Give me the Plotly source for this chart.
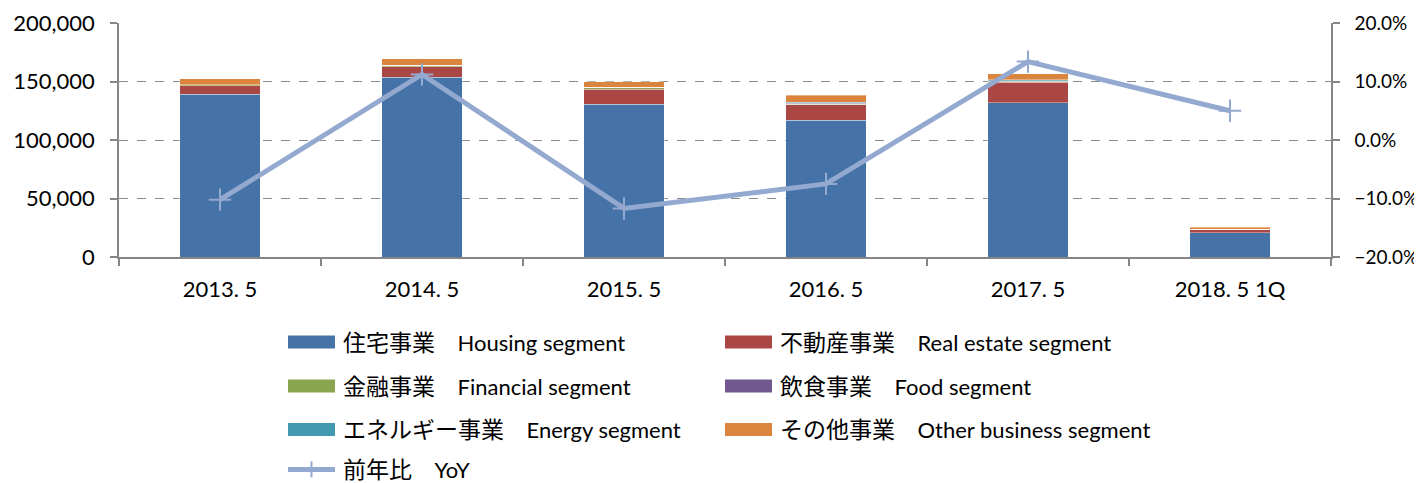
import plotly.graph_objects as go

categories = ["2013. 5", "2014. 5", "2015. 5", "2016. 5", "2017. 5", "2018. 5 1Q"]
housing = [139100, 153600, 130600, 116900, 131700, 20700]
real_estate = [7400, 9100, 12800, 13400, 17700, 3200]
financial = [600, 1400, 1700, 400, 800, 0]
food = [0, 0, 0, 600, 300, 0]
energy = [0, 0, 0, 1000, 1100, 0]
other = [5100, 5200, 4500, 6000, 5100, 1400]
yoy = [-0.102, 0.112, -0.117, -0.075, 0.134, 0.050]

series_jp = ["住宅事業", "不動産事業", "金融事業", "飲食事業", "エネルギー事業", "その他事業"]
series_en = ["Housing segment", "Real estate segment", "Financial segment",
             "Food segment", "Energy segment", "Other business segment"]
yoy_jp, yoy_en = "前年比", "YoY"
colors = ["#4572A7", "#AA4643", "#89A54E", "#71588F", "#4198AF", "#DB843D"]
line_color = "#93A9CF"

# page has an 8px body margin; reference pixel coordinates are converted by OFF
OFF = 8
W, H = 1422 - OFF, 483 - OFF
PLOT_L, PLOT_R, PLOT_T, PLOT_B = 119 - OFF, 1331 - OFF, 23 - OFF, 257.3 - OFF
L, R, T, B = PLOT_L, W - PLOT_R, PLOT_T, H - PLOT_B
PW, PH = PLOT_R - PLOT_L, PLOT_B - PLOT_T

FONT = "Lato, 'Noto Sans CJK JP', sans-serif"
GAP = "\u00a0\u00a0\u00a0\u00a0"

def label(jp, en):
    return f"<span style='font-size:23px'>{jp}</span>{GAP}{en}"

fig = go.Figure()
for vals, jp, en, col in zip([housing, real_estate, financial, food, energy, other],
                             series_jp, series_en, colors):
    fig.add_trace(go.Bar(
        x=categories, y=vals, name=f"{jp} {en}", width=0.4,
        marker=dict(color=col, line=dict(color="rgba(255,255,255,0.45)", width=0.8)),
        showlegend=False,
    ))

fig.add_trace(go.Scatter(
    x=categories, y=yoy, name=f"{yoy_jp} {yoy_en}", yaxis="y2", mode="lines+markers",
    line=dict(color=line_color, width=5),
    marker=dict(symbol="cross-thin", size=16, line=dict(color=line_color, width=2)),
    showlegend=False,
))

def px_x(px):
    return (px - OFF - PLOT_L) / PW

def px_y(py):
    return (PLOT_B - (py - OFF)) / PH

shapes = []
annotations = []
legend_items = [(0, 0, 0), (1, 0, 1), (2, 1, 0), (3, 1, 1), (4, 2, 0), (5, 2, 1)]
row_y = [342.5, 386.5, 430, 470]
col_rect = [(288, 335), (725, 772)]
col_text = [341, 778]
for idx, row, col in legend_items:
    cy = row_y[row]
    x0, x1 = col_rect[col]
    shapes.append(dict(type="rect", xref="paper", yref="paper",
                       x0=px_x(x0), x1=px_x(x1), y0=px_y(cy + 6.5), y1=px_y(cy - 6.5),
                       fillcolor=colors[idx], line=dict(width=0)))
    annotations.append(dict(xref="paper", yref="paper", x=px_x(col_text[col]), y=px_y(cy),
                            text=label(series_jp[idx], series_en[idx]), showarrow=False,
                            xanchor="left", yanchor="middle",
                            font=dict(size=22, color="#000000", family=FONT)))
cy = row_y[3]
shapes.append(dict(type="line", xref="paper", yref="paper",
                   x0=px_x(288), x1=px_x(335), y0=px_y(cy), y1=px_y(cy),
                   line=dict(color=line_color, width=5)))
shapes.append(dict(type="line", xref="paper", yref="paper",
                   x0=px_x(311.5), x1=px_x(311.5), y0=px_y(cy - 8), y1=px_y(cy + 8),
                   line=dict(color=line_color, width=2)))
annotations.append(dict(xref="paper", yref="paper", x=px_x(col_text[0]), y=px_y(cy),
                        text=label(yoy_jp, yoy_en), showarrow=False,
                        xanchor="left", yanchor="middle",
                        font=dict(size=22, color="#000000", family=FONT)))

axis_col = "#868686"
fig.update_layout(
    width=W, height=H,
    margin=dict(l=L, r=R, t=T, b=B, pad=0, autoexpand=False),
    barmode="stack",
    plot_bgcolor="white", paper_bgcolor="white",
    font=dict(family=FONT, size=22, color="#000000"),
    shapes=shapes, annotations=annotations,
    xaxis=dict(
        type="category", tickson="boundaries", ticks="outside", ticklen=7,
        tickcolor=axis_col, tickwidth=1.5, showline=True, linecolor=axis_col, linewidth=2,
        showgrid=False, ticklabelstandoff=12, tickfont=dict(size=22),
        range=[-0.5, 5.5], automargin=False,
    ),
    yaxis=dict(
        range=[0, 200000], tickvals=[0, 50000, 100000, 150000, 200000],
        tickformat=",d", ticks="outside", ticklen=7, tickcolor=axis_col, tickwidth=1.5,
        showline=True, linecolor=axis_col, linewidth=1.5,
        showgrid=True, gridcolor="#8C8C8C", griddash="dash", gridwidth=1,
        zeroline=False, ticklabelstandoff=11, tickfont=dict(size=22), automargin=False,
    ),
    yaxis2=dict(
        overlaying="y", side="right", range=[-0.2, 0.2],
        tickvals=[-0.2, -0.1, 0, 0.1, 0.2], tickformat=".1%",
        ticks="outside", ticklen=7, tickcolor=axis_col, tickwidth=1.5,
        showline=True, linecolor=axis_col, linewidth=1.5,
        showgrid=False, zeroline=False, ticklabelstandoff=11, tickfont=dict(size=19),
        automargin=False,
    ),
)

fig.write_html("out.html")
